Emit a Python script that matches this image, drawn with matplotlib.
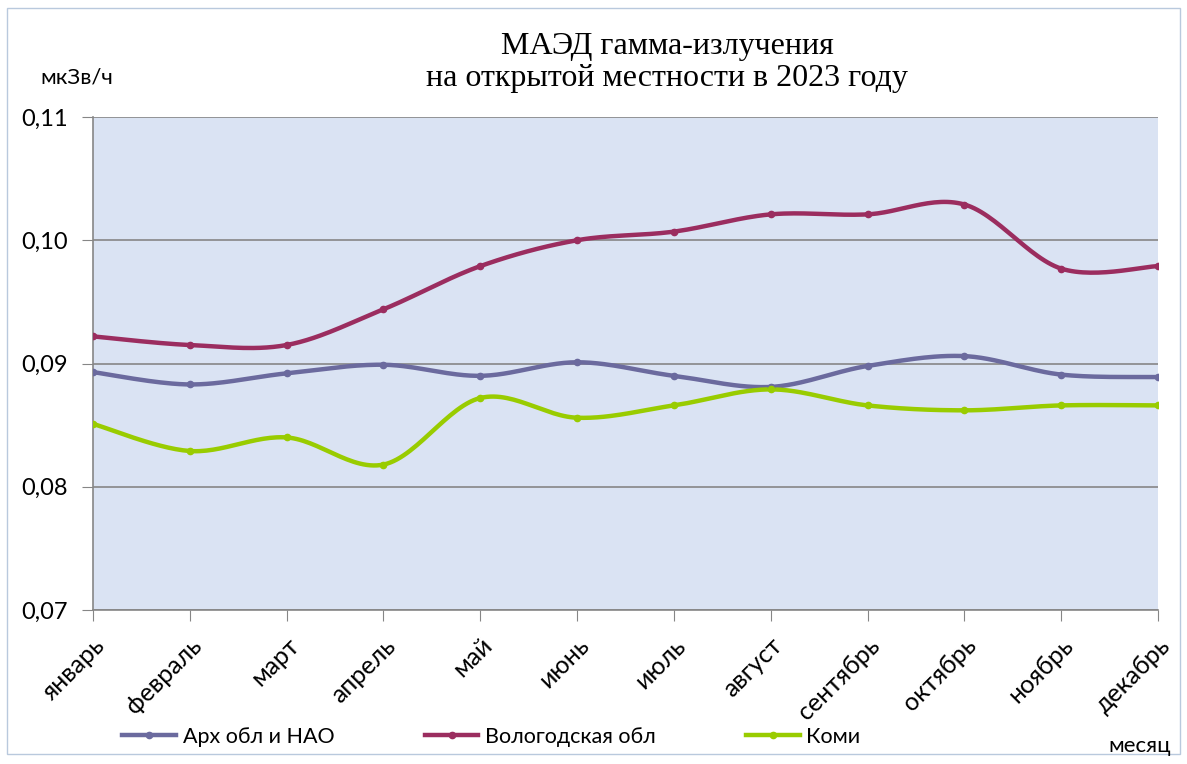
import numpy as np
import matplotlib
matplotlib.use("Agg")
import matplotlib.pyplot as plt
from matplotlib.patches import Rectangle

# monthly MAED values, mkSv/h
months = ["январь", "февраль", "март", "апрель", "май", "июнь",
          "июль", "август", "сентябрь", "октябрь", "ноябрь", "декабрь"]
arkh = [0.0893, 0.0883, 0.0892, 0.0899, 0.0890, 0.0901,
        0.0890, 0.0881, 0.0898, 0.0906, 0.0891, 0.0889]
vologda = [0.0922, 0.0915, 0.0915, 0.0944, 0.0979, 0.1000,
           0.1007, 0.1021, 0.1021, 0.1029, 0.0977, 0.0979]
komi = [0.0851, 0.0829, 0.0840, 0.0818, 0.0872, 0.0856,
        0.0866, 0.0879, 0.0866, 0.0862, 0.0866, 0.0866]
series_names = ["Арх обл и НАО", "Вологодская обл", "Коми"]
colors = ["#6B6A9E", "#9B2D5F", "#99CC00"]
yticks = [0.07, 0.08, 0.09, 0.10, 0.11]

FONT = ["Lato", "DejaVu Sans"]


def smooth(x, y, n=30):
    # excel-like smoothed line: bezier with catmull-rom control points
    x = np.asarray(x, float)
    y = np.asarray(y, float)
    px = np.concatenate([[x[0]], x, [x[-1]]])
    py = np.concatenate([[y[0]], y, [y[-1]]])
    t = np.linspace(0, 1, n)
    xs, ys = [], []
    for i in range(len(x) - 1):
        p0 = np.array([px[i + 1], py[i + 1]])
        p3 = np.array([px[i + 2], py[i + 2]])
        c1 = p0 + (np.array([px[i + 2], py[i + 2]]) - np.array([px[i], py[i]])) / 6
        c2 = p3 - (np.array([px[i + 3], py[i + 3]]) - np.array([px[i + 1], py[i + 1]])) / 6
        b = ((1 - t) ** 3)[:, None] * p0 + (3 * (1 - t) ** 2 * t)[:, None] * c1 \
            + (3 * (1 - t) * t ** 2)[:, None] * c2 + (t ** 3)[:, None] * p3
        xs.append(b[:, 0])
        ys.append(b[:, 1])
    return np.concatenate(xs), np.concatenate(ys)


fig = plt.figure(figsize=(11.87, 7.64), dpi=100)
fig.patch.set_facecolor("white")
fig.add_artist(Rectangle((7 / 1187, 10 / 764), 1 - 14 / 1187, 1 - 18 / 764,
                         transform=fig.transFigure, fill=False,
                         edgecolor="#B9C9DD", linewidth=1))

ax = fig.add_axes([93 / 1187, 154 / 764, 1065 / 1187, 493 / 764])
ax.set_facecolor("#DAE3F3")

x = np.arange(len(months))
handles = []
for vals, name, col in zip([arkh, vologda, komi], series_names, colors):
    sx, sy = smooth(x, vals)
    ax.plot(sx, sy, color=col, linewidth=3.2, solid_capstyle="round", zorder=3)
    ax.plot(x, vals, linestyle="none", marker="o", markersize=4.5, color=col, zorder=4)
    h, = ax.plot([], [], color=col, linewidth=3.2, marker="o", markersize=4.5, label=name)
    handles.append(h)

ax.set_xlim(0, len(months) - 1)
ax.set_ylim(0.07, 0.11)
ax.set_yticks(yticks)
ax.set_yticklabels([f"{v:.2f}".replace(".", ",") for v in yticks],
                   fontsize=17, family=FONT)
ax.set_xticks(x)
ax.set_xticklabels(months, rotation=45, ha="right", va="top",
                   rotation_mode="anchor", fontsize=18, family=FONT)
ax.tick_params(axis="x", length=8, color="#868686", pad=9)
ax.tick_params(axis="y", length=8, color="#868686", pad=10)
ax.grid(axis="y", color="#868686", linewidth=1.2)
ax.set_axisbelow(True)
for side in ["top", "right"]:
    ax.spines[side].set_visible(False)
for side in ["left", "bottom"]:
    ax.spines[side].set_color("#868686")
    ax.spines[side].set_linewidth(1.2)

fig.text(0.562, 0.958, "МАЭД гамма-излучения\nна открытой местности в 2023 году",
         ha="center", va="top", fontsize=23, family="Liberation Serif",
         linespacing=1.12)
fig.text(40 / 1187, 1 - 78 / 764, "мкЗв/ч", ha="left", va="center",
         fontsize=16, family=FONT)
fig.text(1140 / 1187, 1 - 746 / 764, "месяц", ha="center", va="center",
         fontsize=16, family=FONT)

leg = fig.legend(handles=handles, loc="center", bbox_to_anchor=(0.414, 1 - 737 / 764),
                 ncol=3, frameon=False, handlelength=2.5, handletextpad=0.3,
                 columnspacing=4.2, prop={"family": FONT, "size": 15.5})

fig.savefig("out.png", dpi=100)
